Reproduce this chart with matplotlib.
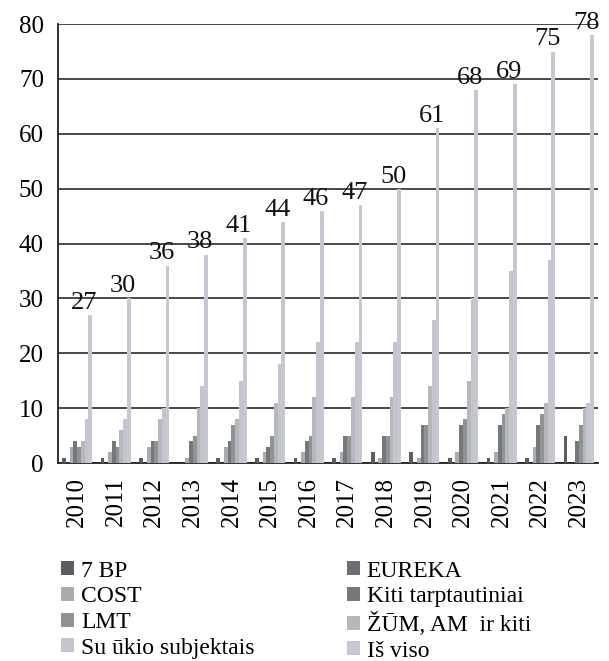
import matplotlib
matplotlib.use("Agg")
import matplotlib.pyplot as plt
import numpy as np

years = ["2010", "2011", "2012", "2013", "2014", "2015", "2016",
         "2017", "2018", "2019", "2020", "2021", "2022", "2023"]
series_names = ["7 BP", "EUREKA", "COST", "Kiti tarptautiniai", "LMT",
                "ŽŪM, AM  ir kiti", "Su ūkio subjektais", "Iš viso"]
bp7 =        [1, 1, 1, 0, 1, 1, 1, 1, 2, 2, 1, 1, 1, 5]
eureka =     [0, 0, 0, 0, 0, 0, 0, 0, 0, 0, 0, 0, 0, 0]
cost =       [3, 2, 3, 1, 3, 2, 2, 2, 1, 1, 2, 2, 3, 0]
kiti =       [4, 4, 4, 4, 4, 3, 4, 5, 5, 7, 7, 7, 7, 4]
lmt =        [3, 3, 4, 5, 7, 5, 5, 5, 5, 7, 8, 9, 9, 7]
zum =        [4, 6, 8, 10, 8, 11, 12, 12, 12, 14, 15, 10, 11, 10]
su_ukio =    [8, 8, 10, 14, 15, 18, 22, 22, 22, 26, 30, 35, 37, 11]
is_viso =    [27, 30, 36, 38, 41, 44, 46, 47, 50, 61, 68, 69, 75, 78]

colors = ["#5a5e63", "#6c7074", "#a9acae", "#74787a", "#909396",
          "#b4b7bb", "#c3c5cc", "#c6c7d0"]

plt.rcParams["font.family"] = ["Liberation Serif", "DejaVu Serif"]

fig = plt.figure(figsize=(6.09, 6.61), dpi=100)
ax = fig.add_axes([0.095, 0.2995, 0.887, 0.664])

data = [bp7, eureka, cost, kiti, lmt, zum, su_ukio, is_viso]
x = np.arange(len(years))
n = len(data)
w = 0.78 / n
handles = []
for i, (vals, c, name) in enumerate(zip(data, colors, series_names)):
    h = ax.bar(x + (i - (n - 1) / 2) * w, vals, width=w, color=c,
               label=name, zorder=3, linewidth=0)
    handles.append(h)

tot_x = x + ((n - 1) / 2) * w
for xi, v in zip(tot_x, is_viso):
    ax.text(xi - 0.15, v + 0.2, str(v), ha="center", va="bottom",
            fontsize=19, color="#111111", clip_on=False, zorder=5)

ax.set_xlim(-0.5, len(years) - 0.5)
ax.set_ylim(0, 80)
ax.set_yticks(range(0, 81, 10))
ax.set_xticks(x)
ax.set_xticklabels(years, rotation=90, fontsize=18)
ax.tick_params(axis="y", labelsize=18, length=0, pad=10)
ax.tick_params(axis="x", length=0, pad=10)
ax.yaxis.grid(True, color="#3a3a3a", linewidth=1.3, zorder=0)
ax.set_axisbelow(True)
for s in ["top", "right"]:
    ax.spines[s].set_visible(False)
ax.spines["left"].set_color("#222222")
ax.spines["left"].set_linewidth(1.3)
ax.spines["bottom"].set_color("#222222")
ax.spines["bottom"].set_linewidth(1.3)

# row-wise legend order (2 columns)
order = [0, 2, 4, 6, 1, 3, 5, 7]
leg = fig.legend([handles[k] for k in order], [series_names[k] for k in order],
                 ncol=2, loc="upper left",
                 bbox_to_anchor=(0.1, 0.152), frameon=False,
                 fontsize=17, handlelength=0.55, handleheight=0.55,
                 handletextpad=0.3, columnspacing=3.9, labelspacing=0.2,
                 borderaxespad=0, borderpad=0)

fig.savefig("out.png", dpi=100)
